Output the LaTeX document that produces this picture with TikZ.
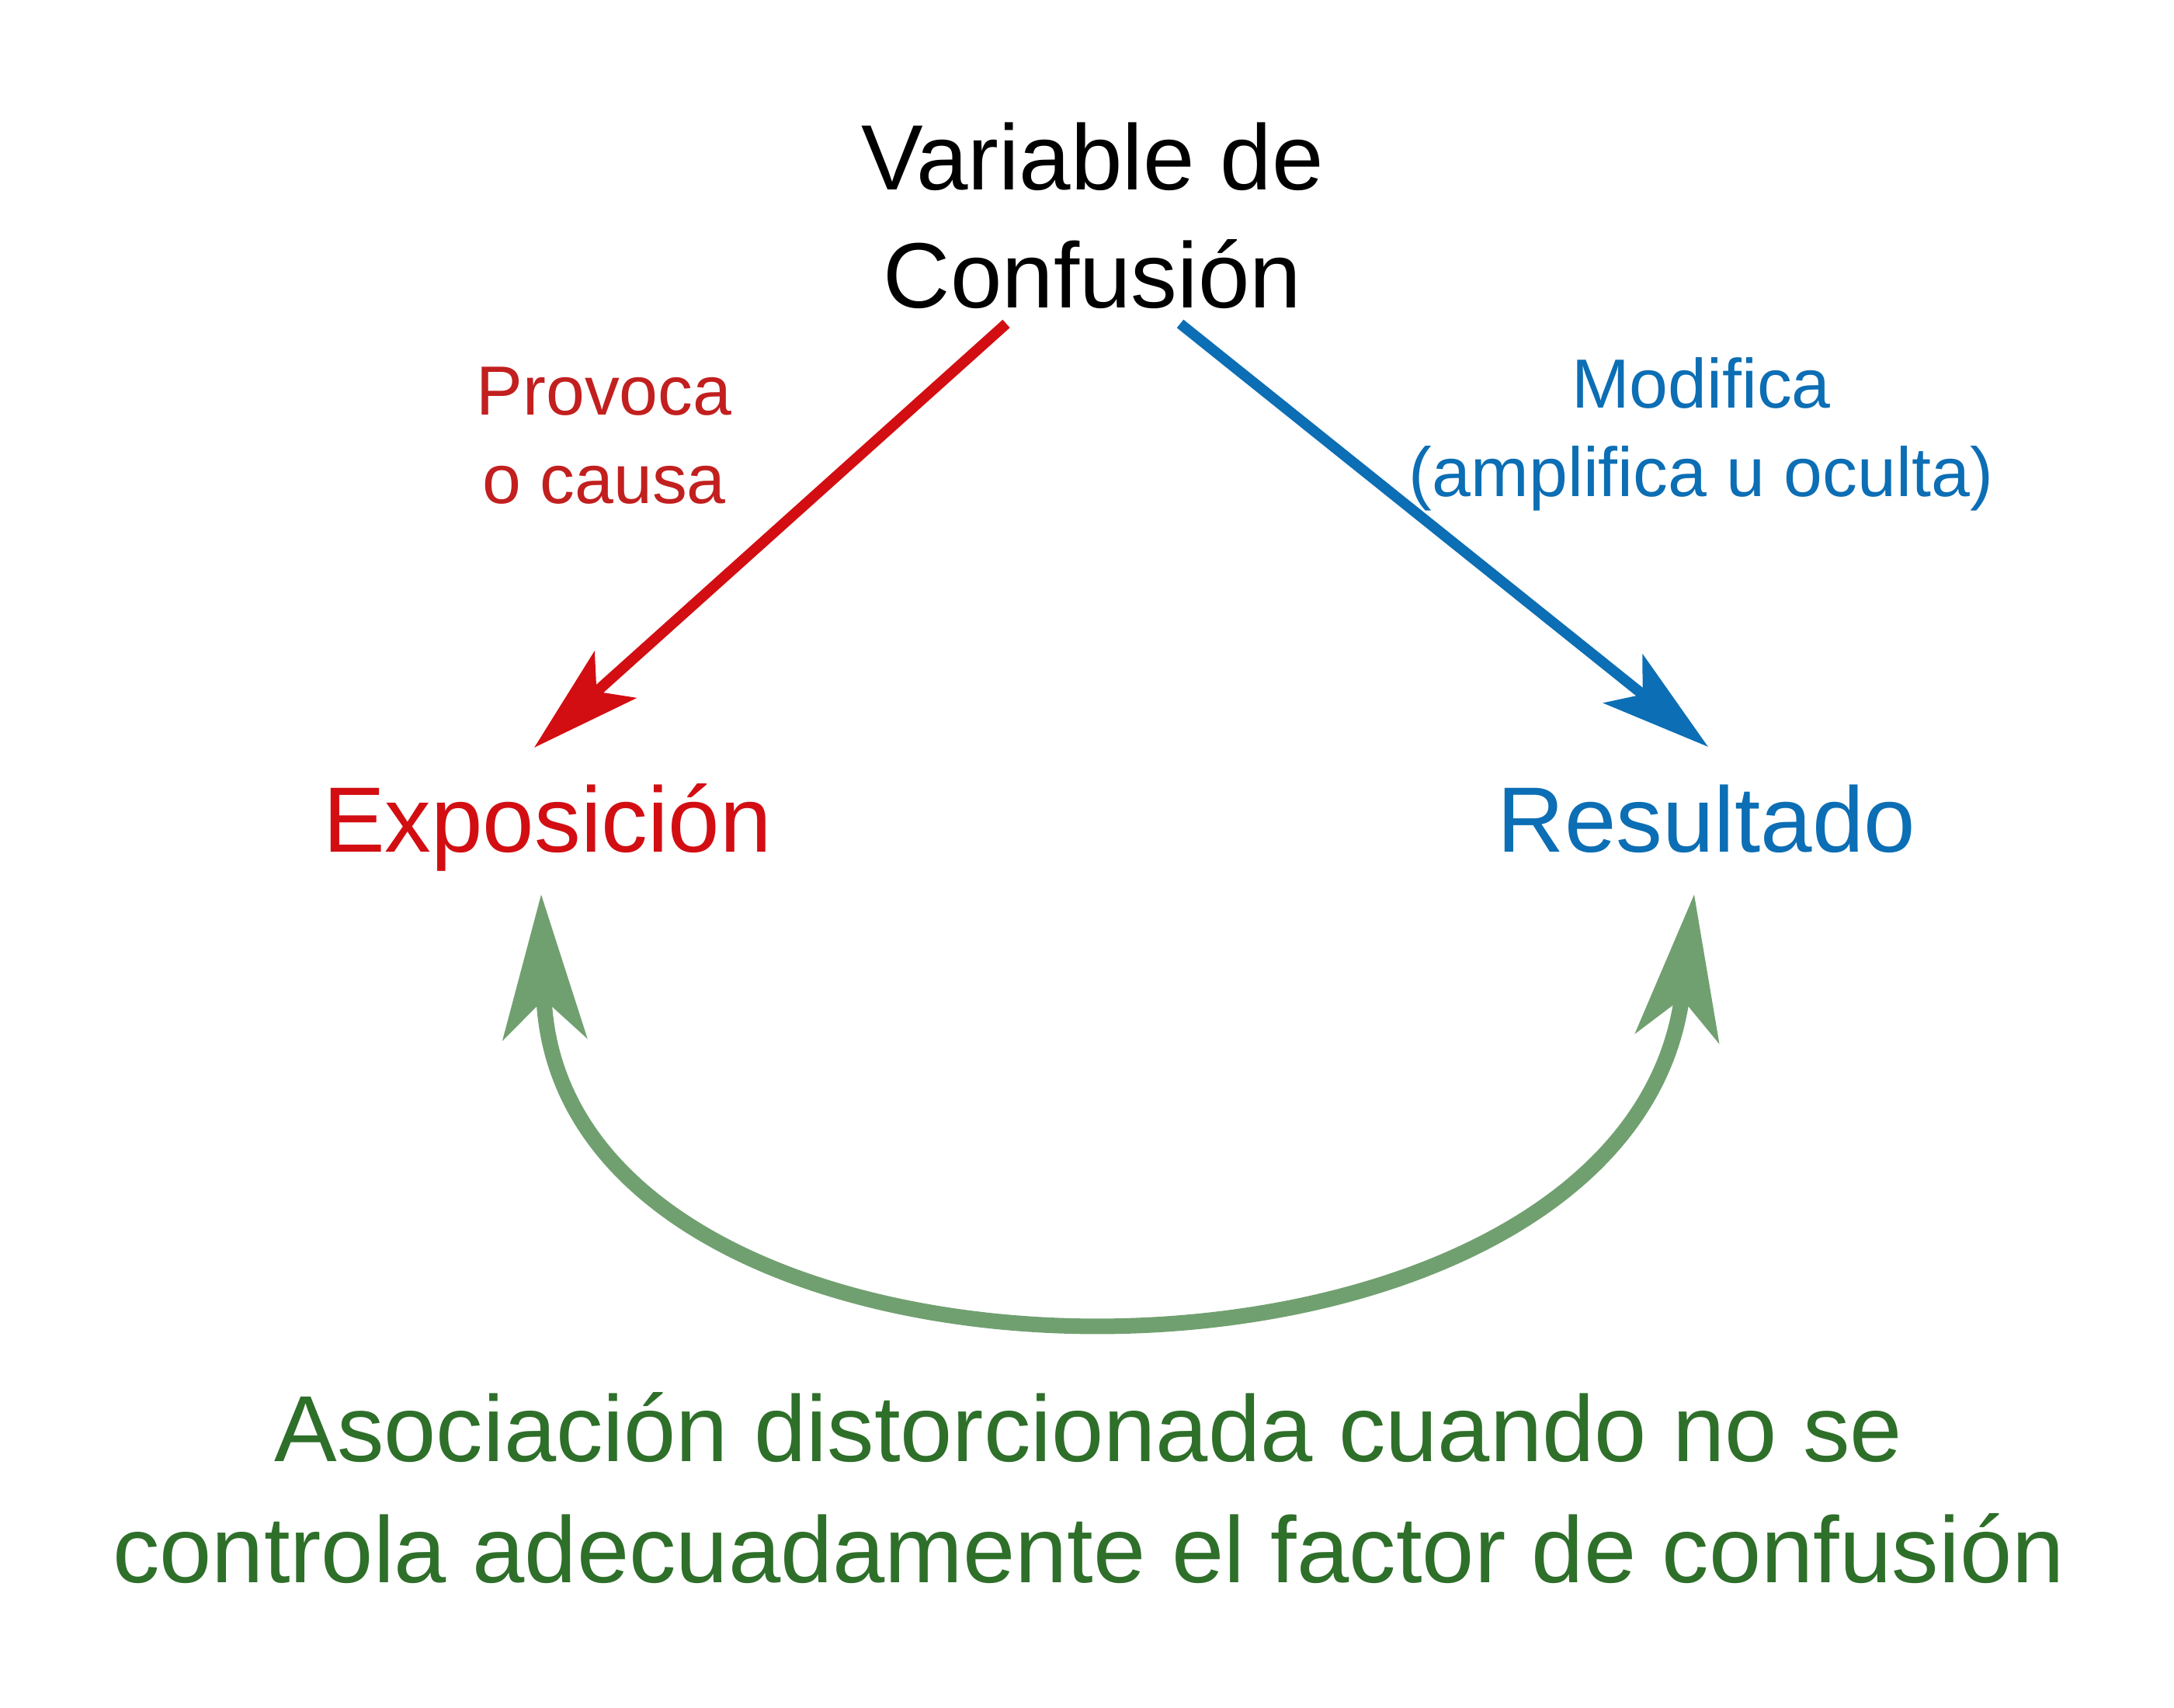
\documentclass[tikz,border=0pt]{standalone}
\usepackage{fontspec}
\setmainfont{Liberation Sans}
\usetikzlibrary{positioning}
\usetikzlibrary{arrows.meta}
\definecolor{exposRed}{HTML}{D20E12}
\definecolor{causeRed}{HTML}{C21F1F}
\definecolor{outBlue}{HTML}{0C6EB4}
\definecolor{assocGreen}{HTML}{71A070}
\definecolor{noteGreen}{HTML}{2E6F2A}
\tikzset{bigtext/.style={inner sep=0pt, align=center, font=\fontsize{34}{43.5}\selectfont}}
\tikzset{notetext/.style={inner sep=0pt, align=center, font=\fontsize{34.4}{44.5}\selectfont}}
\tikzset{smalltext/.style={inner sep=0pt, align=center, font=\fontsize{25.5}{32.5}\selectfont}}
\tikzset{redarrow/.style={draw=exposRed, line width=0.138cm, -{Stealth[length=1.4cm, width=0.8cm, inset=0.32cm, fill=exposRed]}}}
\tikzset{bluearrow/.style={draw=outBlue, line width=0.136cm, -{Stealth[length=1.4cm, width=0.8cm, inset=0.32cm, fill=outBlue]}}}
\tikzset{greenarrow/.style={draw=assocGreen, line width=0.2cm, {Stealth[length=1.86cm, width=1.08cm, inset=0.51cm, fill=assocGreen]}-{Stealth[length=1.86cm, width=1.08cm, inset=0.51cm, fill=assocGreen]}}}

\begin{document}
\begin{tikzpicture}
    \useasboundingbox (0,0) rectangle (28,22);

    \node [bigtext, anchor=base] (confounder) at (14.07,18.03) {Variable de\\Confusión};
    \node [smalltext, anchor=base, text=causeRed] (causeLbl) at (7.78,15.51) {Provoca\\o causa};
    \node [smalltext, anchor=base, text=outBlue] (modLbl) at (21.91,15.60) {Modifica\\(amplifica u oculta)};
    \node [bigtext, anchor=base, text=exposRed] (exposure) at (7.05,11.02) {Exposición};
    \node [bigtext, anchor=base, text=outBlue] (outcome) at (21.98,11.02) {Resultado};
    \node [notetext, anchor=base, text=noteGreen] (assocLbl) at (14.02,1.61) {Asociación distorcionada cuando no se\\controla adecuadamente el factor de confusión};

    \coordinate (causeStart) at (12.96,17.83);
    \coordinate (causeEnd) at (6.88,12.37);
    \coordinate (modStart) at (15.20,17.83);
    \coordinate (modEnd) at (22.00,12.38);
    \coordinate (assocLeft) at (6.97,10.48);
    \coordinate (assocRight) at (21.82,10.48);

    \draw [redarrow] (causeStart) -- (causeEnd);
    \draw [bluearrow] (modStart) -- (modEnd);
    \draw [greenarrow] (assocLeft) .. controls (7.15,3.48) and (20.99,3.48) .. (assocRight);

\end{tikzpicture}
\end{document}
